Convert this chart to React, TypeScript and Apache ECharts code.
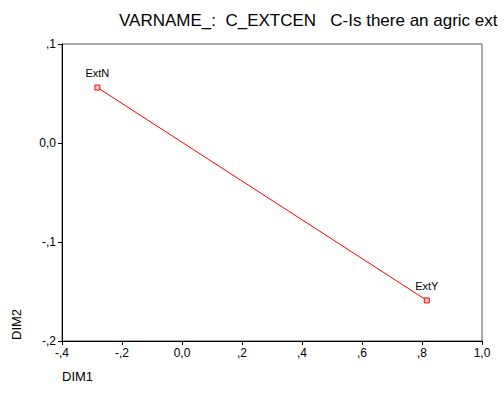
import React, { useEffect, useRef } from "react";
import * as echarts from "echarts";

const categories = ["ExtN", "ExtY"];
const dim1Values = [-0.282, 0.816];
const dim2Values = [0.056, -0.159];
const xTickValues = [-0.4, -0.2, 0.0, 0.2, 0.4, 0.6, 0.8, 1.0];
const xTickLabels = ["-,4", "-,2", "0,0", ",2", ",4", ",6", ",8", "1,0"];
const yTickValues = [-0.2, -0.1, 0.0, 0.1];
const yTickLabels = ["-,2", "-,1", "0,0", ",1"];
const titleText = "VARNAME_:  C_EXTCEN   C-Is there an agric ext";

const FONT = "'Liberation Sans', Arial, sans-serif";

function lookup(values: number[], labels: string[], v: number): string {
  for (let i = 0; i < values.length; i++) {
    if (Math.abs(values[i] - v) < 1e-6) return labels[i];
  }
  return "";
}

export default function App() {
  const ref = useRef<HTMLDivElement>(null);
  useEffect(() => {
    if (!ref.current) return;
    const chart = echarts.init(ref.current, null, { renderer: "svg" });
    const data = categories.map((c, i) => ({ name: c, value: [dim1Values[i], dim2Values[i]] }));
    chart.setOption({
      animation: false,
      backgroundColor: "#fff",
      grid: {
        left: 62,
        right: 22,
        top: 44,
        bottom: 59,
        show: true,
        borderColor: "#555",
        borderWidth: 1,
        backgroundColor: "transparent",
      },
      graphic: [
        {
          type: "text",
          left: 119,
          top: 12,
          style: { text: titleText, font: `17px ${FONT}`, fill: "#000" },
        },
        {
          type: "text",
          left: 62,
          top: 370,
          style: { text: "DIM1", font: `13px ${FONT}`, fill: "#000" },
        },
        {
          type: "text",
          x: 10,
          y: 340,
          rotation: Math.PI / 2,
          style: { text: "DIM2", font: `13px ${FONT}`, fill: "#000" },
        },
      ],
      xAxis: {
        type: "value",
        min: -0.4,
        max: 1.0,
        interval: 0.2,
        axisLine: { show: true, onZero: false, lineStyle: { color: "#000", width: 1 } },
        axisTick: { show: true, length: 4, lineStyle: { color: "#000" } },
        splitLine: { show: false },
        axisLabel: {
          color: "#000",
          fontSize: 12,
          fontFamily: FONT,
          margin: 6,
          formatter: (v: number) => lookup(xTickValues, xTickLabels, v),
        },
      },
      yAxis: {
        type: "value",
        min: -0.2,
        max: 0.1,
        interval: 0.1,
        axisLine: { show: true, onZero: false, lineStyle: { color: "#000", width: 1 } },
        axisTick: { show: true, length: 4, lineStyle: { color: "#000" } },
        splitLine: { show: false },
        axisLabel: {
          color: "#000",
          fontSize: 12,
          fontFamily: FONT,
          margin: 6,
          formatter: (v: number) => lookup(yTickValues, yTickLabels, v),
        },
      },
      series: [
        {
          type: "line",
          data,
          symbol: "rect",
          symbolSize: 5,
          showAllSymbol: true,
          lineStyle: { color: "#ff0000", width: 1 },
          itemStyle: { color: "#ffcccc", borderColor: "#ff0000", borderWidth: 1 },
          label: {
            show: true,
            position: "top",
            distance: 6,
            formatter: (p: any) => p.name,
            color: "#000",
            fontSize: 11,
            fontFamily: FONT,
          },
        },
      ],
    });
    return () => chart.dispose();
  }, []);
  return <div ref={ref} style={{ width: 504, height: 400, position: "absolute", left: 0, top: 0 }} />;
}
